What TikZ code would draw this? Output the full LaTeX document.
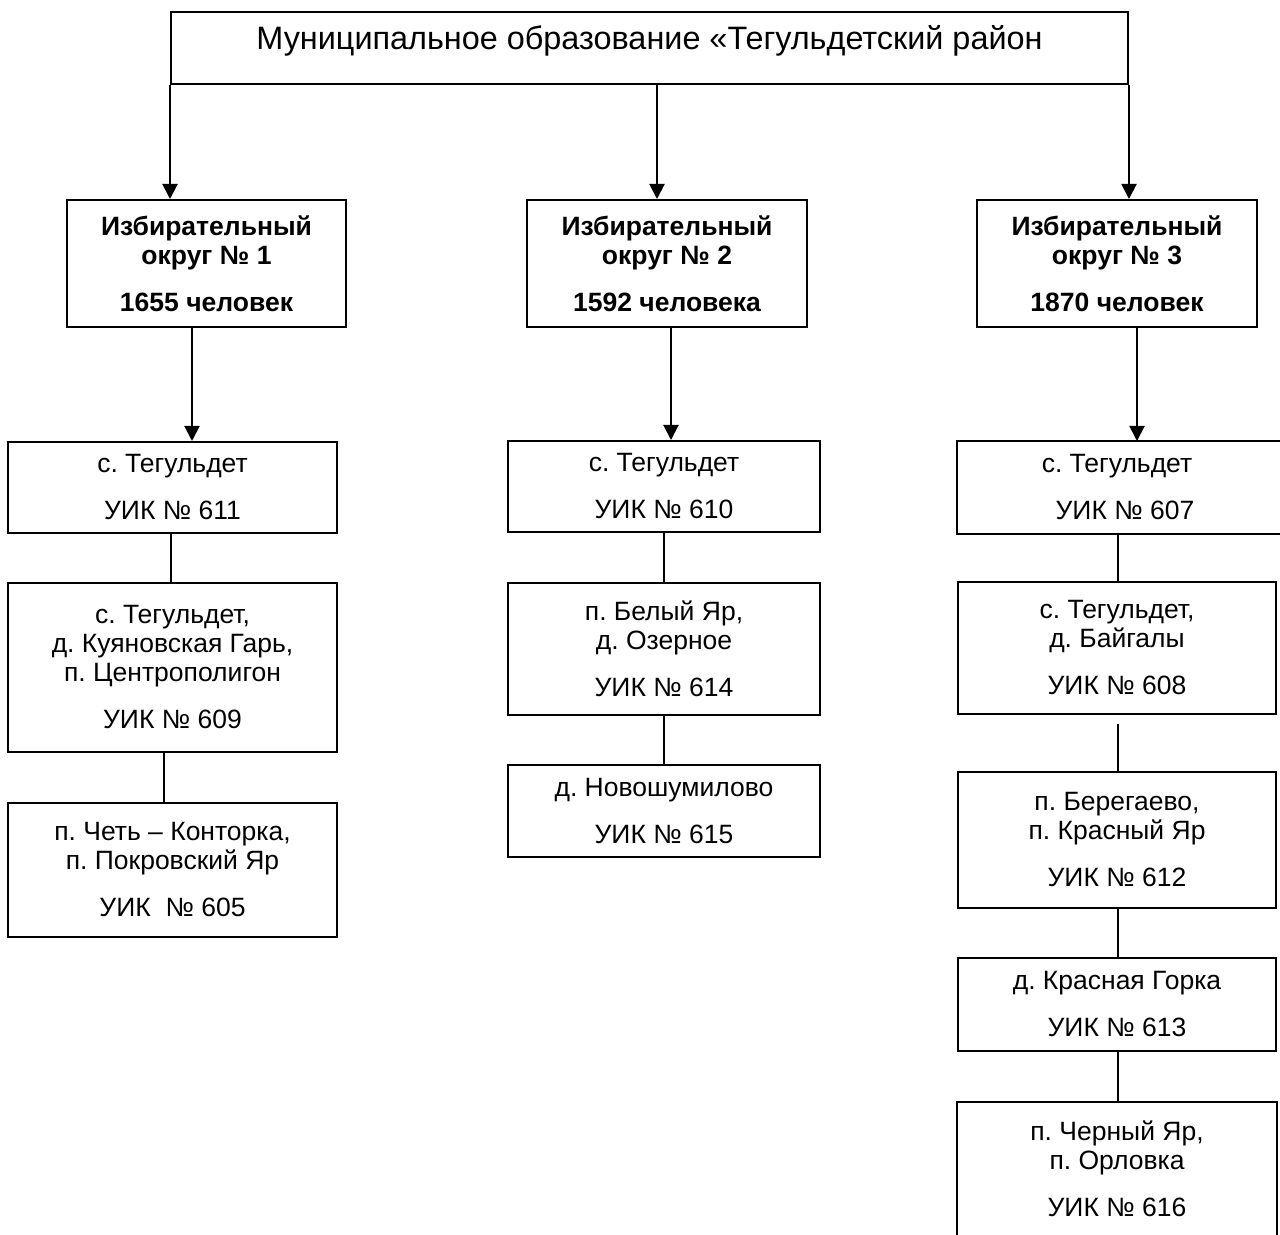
\documentclass[tikz,border=0pt]{standalone}
\usepackage{fontspec}
\setmainfont{Liberation Sans}
\frenchspacing
\usetikzlibrary{arrows.meta,calc}
\tikzset{
  box/.style={draw, line width=1pt, align=center, inner sep=0pt,
    font=\fontsize{13.25pt}{14.5pt}\selectfont},
  boldbox/.style={box, font=\fontsize{13.25pt}{14.5pt}\selectfont\bfseries},
  openbox/.style={box, draw=none},
  titlebox/.style={draw, line width=1pt, inner sep=0pt,
    font=\fontsize{16.2pt}{19pt}\selectfont, text height=11.5pt, text depth=9.5pt},
  conn/.style={line width=1pt},
  arr/.style={line width=1pt, -{Triangle[width=7.5pt,length=7.5pt]}},
  frame/.style={line width=1pt}
}
\begin{document}
\begin{tikzpicture}[x=0.5pt,y=-0.5pt]
\useasboundingbox (0,0) rectangle (1280,1235);
\clip (0,0) rectangle (1280,1235);

% top
\node[titlebox, minimum width=478.5pt, minimum height=36pt] (top) at (649.5,48)
  {Муниципальное образование «Тегульдетский район};

% level 2
\node[boldbox, minimum width=139.5pt, minimum height=63.5pt] (l2a) at (206.5,263.5)
  {Избирательный\\ округ № 1\\[9pt] 1655 человек};
\node[boldbox, minimum width=140pt, minimum height=63.5pt] (l2b) at (667,263.5)
  {Избирательный\\ округ № 2\\[9pt] 1592 человека};
\node[boldbox, minimum width=140pt, minimum height=63.5pt] (l2c) at (1117,263.5)
  {Избирательный\\ округ № 3\\[9pt] 1870 человек};

% column 1
\node[box, minimum width=164.5pt, minimum height=45.5pt] (c1a) at (172.5,487.5)
  {с. Тегульдет\\[9pt] УИК № 611};
\node[box, minimum width=164.5pt, minimum height=84.5pt] (c1b) at (172.5,667.5)
  {с. Тегульдет,\\ д. Куяновская Гарь,\\ п. Центрополигон\\[9pt] УИК № 609};
\node[box, minimum width=164.5pt, minimum height=67pt] (c1c) at (172.5,870)
  {п. Четь – Конторка,\\ п. Покровский Яр\\[9pt] УИК~ № 605};

% column 2
\node[box, minimum width=156pt, minimum height=45.5pt] (c2a) at (664,486.5)
  {с. Тегульдет\\[9pt] УИК № 610};
\node[box, minimum width=156pt, minimum height=66pt] (c2b) at (664,649)
  {п. Белый Яр,\\ д. Озерное\\[9pt] УИК № 614};
\node[box, minimum width=156pt, minimum height=46pt] (c2c) at (664,811)
  {д. Новошумилово\\[9pt] УИК № 615};

% column 3
\node[openbox, minimum width=159pt, minimum height=45.5pt] (c3a) at (1117,487.5)
  {с. Тегульдет\\[9pt] \hspace*{8pt}УИК № 607};
\draw[frame] ($(c3a.north east)+(12,0)$) -- (c3a.north west) -- (c3a.south west) -- ($(c3a.south east)+(12,0)$);
\node[box, minimum width=159pt, minimum height=66pt] (c3b) at (1117,648)
  {с. Тегульдет,\\ д. Байгалы\\[9pt] УИК № 608};
\node[box, minimum width=159pt, minimum height=68pt] (c3c) at (1117,840)
  {п. Берегаево,\\ п. Красный Яр\\[9pt] УИК № 612};
\node[box, minimum width=159pt, minimum height=46.5pt] (c3d) at (1117,1004.5)
  {д. Красная Горка\\[9pt] УИК № 613};
\node[openbox, minimum width=159pt, minimum height=66pt] (c3e) at (1117,1169)
  {п. Черный Яр,\\ п. Орловка\\[9pt] УИК № 616};
\draw[frame] ($(c3e.south west)+(0,10)$) -- (c3e.north west) -- (c3e.north east) -- ($(c3e.south east)+(0,10)$);

% arrows from top
\draw[arr] (top.south west) -- (top.south west |- l2a.north);
\draw[arr] ([xshift=3.75pt]top.south) -- ([xshift=3.75pt]top.south |- l2b.north);
\draw[arr] (top.south east) -- (top.south east |- l2c.north);

% arrows from level 2
\draw[arr] ([xshift=-7.25pt]l2a.south) -- ([xshift=-7.25pt]l2a.south |- c1a.north);
\draw[arr] ([xshift=2pt]l2b.south) -- ([xshift=2pt]l2b.south |- c2a.north);
\draw[arr] ([xshift=10pt]l2c.south) -- ([xshift=10pt]l2c.south |- c3a.north);

% column connectors
\draw[conn] ([xshift=-0.75pt]c1a.south) -- ([xshift=-0.75pt]c1a.south |- c1b.north);
\draw[conn] ([xshift=-4.25pt]c1b.south) -- ([xshift=-4.25pt]c1b.south |- c1c.north);
\draw[conn] (c2a.south) -- (c2b.north);
\draw[conn] (c2b.south) -- (c2c.north);
\draw[conn] ([xshift=0.5pt]c3a.south) -- ([xshift=0.5pt]c3a.south |- c3b.north);
\draw[conn, shorten <=4.5pt] ([xshift=0.5pt]c3b.south) -- ([xshift=0.5pt]c3b.south |- c3c.north);
\draw[conn] ([xshift=0.5pt]c3c.south) -- ([xshift=0.5pt]c3c.south |- c3d.north);
\draw[conn] ([xshift=0.5pt]c3d.south) -- ([xshift=0.5pt]c3d.south |- c3e.north);
\end{tikzpicture}
\end{document}
